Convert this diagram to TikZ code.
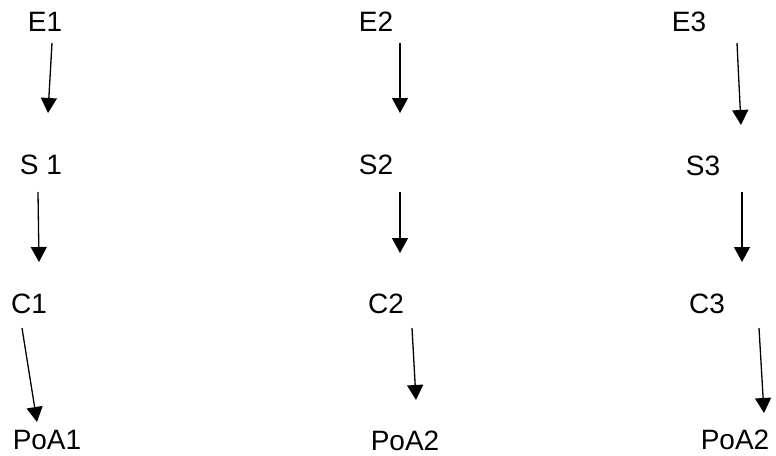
\documentclass[tikz,border=0pt]{standalone}
\usepackage{fontspec}
\setmainfont{Liberation Sans}
\usetikzlibrary{arrows.meta}

\tikzset{
  lbl/.style={inner sep=0pt, font=\fontsize{28}{32}\selectfont},
  arr/.style={line width=1.3pt, -{Triangle[length=15pt,width=16pt]}}
}

\begin{document}
\begin{tikzpicture}[x=1pt,y=-1pt]
  \useasboundingbox (0,0) rectangle (776,455);
  % labels
  \node[lbl] (E1) at (45,22) {E1};
  \node[lbl] (E2) at (376,22) {E2};
  \node[lbl] (E3) at (689,22) {E3};
  \node[lbl] (S1) at (41,165) {S 1};
  \node[lbl] (S2) at (376,165) {S2};
  \node[lbl] (S3) at (703,166) {S3};
  \node[lbl] (C1) at (29,304) {C1};
  \node[lbl] (C2) at (386,304) {C2};
  \node[lbl] (C3) at (707,304) {C3};
  \node[lbl] (P1) at (47,440) {PoA1};
  \node[lbl] (P2) at (405,441) {PoA2};
  \node[lbl] (P3) at (735,440) {PoA2};
  % arrow ends
  \coordinate (E1b) at (52,43);   \coordinate (S1t) at (48,113);
  \coordinate (S1b) at (38,192);  \coordinate (C1t) at (39,262);
  \coordinate (C1b) at (22,328);  \coordinate (P1t) at (37,422);
  \coordinate (E2b) at (400,43);  \coordinate (S2t) at (400,113);
  \coordinate (S2b) at (400,192); \coordinate (C2t) at (400,253);
  \coordinate (C2b) at (412,328); \coordinate (P2t) at (416,400);
  \coordinate (E3b) at (737,43);  \coordinate (S3t) at (741,125);
  \coordinate (S3b) at (742,192); \coordinate (C3t) at (742,262);
  \coordinate (C3b) at (759,328); \coordinate (P3t) at (764,413);
  % arrows
  \foreach \i in {1,2,3} {
    \draw[arr] (E\i b) -- (S\i t);
    \draw[arr] (S\i b) -- (C\i t);
    \draw[arr] (C\i b) -- (P\i t);
  }
\end{tikzpicture}
\end{document}
